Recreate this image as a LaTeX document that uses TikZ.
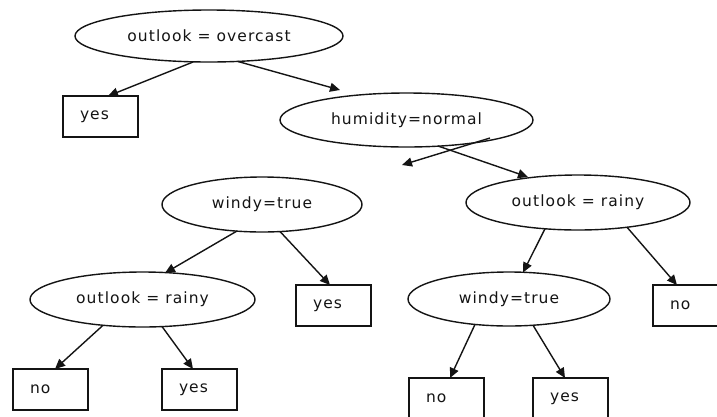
\documentclass[tikz,border=0pt]{standalone}
\usepackage{fontspec}
\newfontfamily\treefont{DejaVu Sans}[LetterSpace=7]
\usetikzlibrary{shapes.geometric,arrows.meta,calc}
\definecolor{ink}{HTML}{141414}
\begin{document}
\begin{tikzpicture}[x=1pt,y=-1pt,
  labelfont/.style={font=\treefont\fontsize{15.5}{18}\selectfont, text=ink},
  test/.style={ellipse, draw=ink, line width=1.4pt, inner sep=0pt, outer sep=0pt, labelfont},
  leaf/.style={rectangle, draw=ink, line width=1.4pt, outer sep=0pt,
    minimum width=75pt, minimum height=41pt, inner xsep=17pt, inner ysep=0pt,
    text width=41pt, align=left, labelfont},
  branch/.style={draw=ink, line width=1.4pt, -{Triangle[length=10pt,width=9pt]}}]
\clip (0,0) rectangle (717,416);
\fill[white] (0,0) rectangle (717,416);

% decision nodes
\node[test, minimum width=268pt, minimum height=52pt] (root) at (209,36) {outlook = overcast};
\node[test, minimum width=253pt, minimum height=54pt] (hum) at (406.5,120) {humidity=normal};
\node[test, minimum width=200pt, minimum height=55pt] (windL) at (262,204.5) {windy=true};
\node[test, minimum width=224pt, minimum height=55pt] (rainR) at (578,202.5) {outlook = rainy};
\node[test, minimum width=225pt, minimum height=55pt] (rainL) at (142.5,299.5) {outlook = rainy};
\node[test, minimum width=202pt, minimum height=54pt] (windR) at (509,299) {windy=true};

% leaves
\node[leaf] (yesA) at (100.5,116.5) {yes};
\node[leaf] (yesB) at (333.5,305.5) {yes};
\node[leaf] (noC) at (690.5,305.5) {no};
\node[leaf] (noD) at (50.5,389.5) {no};
\node[leaf] (yesE) at (199.5,389.5) {yes};
\node[leaf] (noF) at (446.5,398.5) {no};
\node[leaf] (yesG) at (570.5,398.5) {yes};

\coordinate (loose) at (402,165);

% branches
\draw[branch] ($(root)+(-16,26)$) -- ($(yesA)+(7.5,-20.5)$);
\draw[branch] ($(root)+(29,25.5)$) -- ($(hum)+(-66.5,-30)$);
\draw[branch] ($(hum)+(83.5,18)$) -- (loose);
\draw[branch] ($(hum)+(31.5,26)$) -- ($(rainR)+(-50,-25.5)$);
\draw[branch] ($(windL)+(-25,26.5)$) -- ($(rainL)+(22.5,-26.5)$);
\draw[branch] ($(windL)+(18,27)$) -- ($(yesB)+(-3.5,-20.5)$);
\draw[branch] ($(rainL)+(-39.5,25.8)$) -- ($(noD)+(4.5,-20.5)$);
\draw[branch] ($(rainL)+(19.5,27)$) -- ($(yesE)+(-6.5,-20.5)$);
\draw[branch] ($(rainR)+(-33,26.3)$) -- ($(windR)+(14,-26.5)$);
\draw[branch] ($(rainR)+(49,24.7)$) -- ($(noC)+(-13.5,-20.5)$);
\draw[branch] ($(windR)+(-34,25.4)$) -- ($(noF)+(3.5,-20.5)$);
\draw[branch] ($(windR)+(24,26.2)$) -- ($(yesG)+(-5.5,-20.5)$);
\end{tikzpicture}
\end{document}
